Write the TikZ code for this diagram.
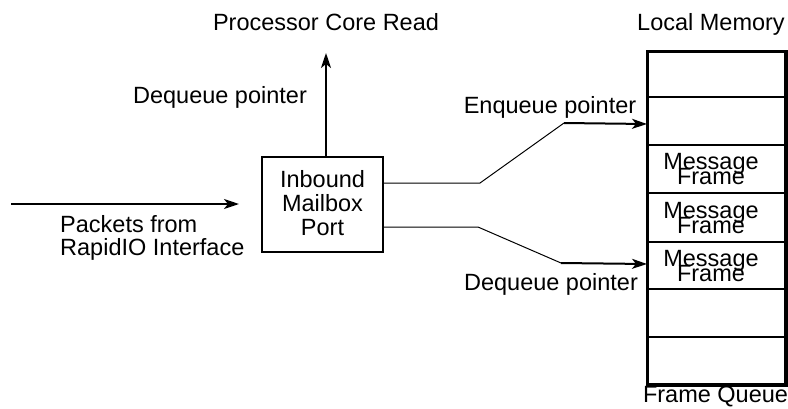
\documentclass[tikz,border=0pt]{standalone}
\usepackage{fontspec}
\setmainfont{Liberation Sans}
\usetikzlibrary{arrows.meta}
\begin{document}
\begin{tikzpicture}[x=1pt,y=-1pt,
  lbl/.style={font=\fontsize{23.5}{24}\selectfont, inner sep=0pt, anchor=base},
  arr/.style={-{Stealth[length=15pt,width=10pt,inset=4pt]}, line width=2pt},
  conn/.style={line width=1pt},
  cell/.style={draw, line width=2pt, minimum width=137pt, inner sep=0pt, anchor=north west},
]
\useasboundingbox (0,0) rectangle (788,408);

% Inbound mailbox port
\node[draw, line width=2pt, minimum width=121pt, minimum height=95pt, inner sep=0pt] (port) at (322.5,204.5) {};
\node[lbl] (t1) at (322.5,187) {Inbound};
\node[lbl] (t2) at (322.5,211) {Mailbox};
\node[lbl] (t3) at (322.5,235) {Port};

% memory column
\node[cell, minimum height=45pt] (c1) at (647,51) {};
\node[cell, minimum height=48pt] (c2) at (647,96) {};
\node[cell, minimum height=48pt] (c3) at (647,144) {};
\node[cell, minimum height=49pt] (c4) at (647,192) {};
\node[cell, minimum height=47pt] (c5) at (647,241) {};
\node[cell, minimum height=48pt] (c6) at (647,288) {};
\node[cell, minimum height=47pt] (c7) at (647,336) {};
\draw[line width=3pt] (c1.north west) rectangle (c7.south east);

\node[lbl] (ma) at (711,169) {Message};
\node[lbl] (fa) at (711,184) {Frame};
\node[lbl] (mb) at (711,218) {Message};
\node[lbl] (fb) at (711,233) {Frame};
\node[lbl] (mc) at (711,266) {Message};
\node[lbl] (fc) at (711,281) {Frame};

% labels
\node[lbl] (pcr) at (326,30) {Processor Core Read};
\node[lbl] (lm) at (711,30) {Local Memory};
\node[lbl] (fq) at (715.5,402) {Frame Queue};
\node[lbl] (dq1) at (220,103) {Dequeue pointer};
\node[lbl] (eq) at (550,113) {Enqueue pointer};
\node[lbl] (dq2) at (551,290) {Dequeue pointer};
\node[lbl, anchor=base west] (pk1) at (60,232) {Packets from};
\node[lbl, anchor=base west] (pk2) at (60,255) {RapidIO Interface};

% connectors
\coordinate (top) at (326,53);
\draw[arr] ([xshift=3.5pt]port.north) -- (top);
\coordinate (inl) at (11,204);
\draw[arr] (inl) -- ([xshift=-22pt,yshift=0.5pt]port.west);

\draw[conn] ([yshift=21.5pt]port.east) -- (480,183) -- (564,123);
\draw[arr] (564,123) -- ([yshift=-3pt]c2.west);

\draw[conn] ([yshift=-22.5pt]port.east) -- (478,227) -- (561,263);
\draw[arr] (561,263) -- ([yshift=1.5pt]c5.west);
\end{tikzpicture}
\end{document}
